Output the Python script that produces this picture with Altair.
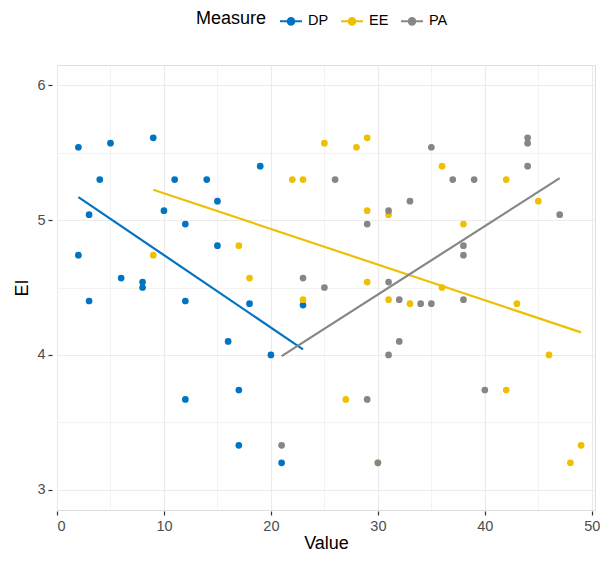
import altair as alt
import pandas as pd

dp_x = [2, 5, 9, 4, 11, 14, 15, 10, 3, 12, 15, 2, 6, 8, 8, 3, 12, 16, 12, 19, 18, 23, 20, 17, 17, 21]
dp_y = [5.54, 5.57, 5.61, 5.30, 5.30, 5.30, 5.14, 5.07, 5.04, 4.97, 4.81, 4.74, 4.57, 4.54, 4.50, 4.40, 4.40, 4.10, 3.67, 5.40, 4.38, 4.37, 4.00, 3.74, 3.33, 3.20]

ee_x = [9, 17, 18, 23, 25, 28, 29, 22, 23, 29, 31, 29, 31, 27, 36, 42, 45, 38, 36, 33, 43, 46, 42, 49, 48, 30]
ee_y = [4.74, 4.81, 4.57, 4.41, 5.57, 5.54, 5.61, 5.30, 5.30, 5.07, 5.04, 4.54, 4.41, 3.67, 5.40, 5.30, 5.14, 4.97, 4.50, 4.38, 4.38, 4.00, 3.74, 3.33, 3.20, 3.20]

pa_x = [23, 25, 26, 31, 29, 31, 32, 31, 32, 21, 29, 30, 35, 37, 39, 44, 44, 44, 47, 33, 38, 38, 34, 35, 38, 40]
pa_y = [4.57, 4.50, 5.30, 5.07, 4.97, 4.54, 4.41, 4.00, 4.10, 3.33, 3.67, 3.20, 5.54, 5.30, 5.30, 5.61, 5.57, 5.40, 5.04, 5.14, 4.81, 4.74, 4.38, 4.38, 4.41, 3.74]

measures = ["DP", "EE", "PA"]
colors = ["#0073C2", "#EFC000", "#868686"]

rows = []
for m, xs, ys in zip(measures, [dp_x, ee_x, pa_x], [dp_y, ee_y, pa_y]):
    for a, b in zip(xs, ys):
        rows.append({"Measure": m, "Value": a, "EI": b})
df = pd.DataFrame(rows)

x_vals = [0, 5, 10, 15, 20, 25, 30, 35, 40, 45, 50]
y_vals = [3, 3.5, 4, 4.5, 5, 5.5, 6]

FONT = "Liberation Sans"

xscale = alt.Scale(domain=[0, 50.3], nice=False, zero=False)
yscale = alt.Scale(domain=[2.85, 6.15], nice=False, zero=False)

xaxis = alt.Axis(
    values=x_vals,
    labelExpr="datum.value % 10 === 0 ? format(datum.value, 'd') : ''",
    grid=True,
    gridColor="#ebebeb",
    gridWidth={"condition": {"test": "datum.value % 10 === 0", "value": 1.2}, "value": 0.6},
    tickOpacity={"condition": {"test": "datum.value % 10 === 0", "value": 1}, "value": 0},
    tickColor="#333333",
    tickSize=4,
    tickWidth=1.2,
    domain=False,
    offset=1,
    labelColor="#4d4d4d",
    labelFontSize=14.5,
    labelFont=FONT,
    labelPadding=4,
    title="Value",
    titleFontSize=18,
    titleFontWeight="normal",
    titleFont=FONT,
    titleColor="#000000",
    titlePadding=2,
)
yaxis = alt.Axis(
    values=y_vals,
    labelExpr="datum.value % 1 === 0 ? format(datum.value, 'd') : ''",
    grid=True,
    gridColor="#ebebeb",
    gridWidth={"condition": {"test": "datum.value % 1 === 0", "value": 1.2}, "value": 0.6},
    tickOpacity={"condition": {"test": "datum.value % 1 === 0", "value": 1}, "value": 0},
    tickColor="#333333",
    tickSize=4,
    tickWidth=1.2,
    domain=False,
    offset=5,
    labelColor="#4d4d4d",
    labelFontSize=14.5,
    labelFont=FONT,
    labelPadding=3,
    title="EI",
    titleFontSize=18,
    titleFontWeight="normal",
    titleFont=FONT,
    titleColor="#000000",
    titlePadding=5,
)

color = alt.Color(
    "Measure:N",
    scale=alt.Scale(domain=measures, range=colors),
    legend=alt.Legend(
        orient="none",
        legendX=139,
        legendY=-56,
        direction="horizontal",
        titleOrient="left",
        title="Measure",
        titleFontSize=18,
        titleFontWeight="normal",
        titleFont=FONT,
        titleColor="#000000",
        titlePadding=12,
        labelFontSize=14.5,
        labelFont=FONT,
        labelColor="#000000",
        symbolType="M-1,0L1,0M0.3,0A0.3,0.3,0,1,1,-0.3,0A0.3,0.3,0,1,1,0.3,0",
        symbolSize=484,
        symbolStrokeWidth=2,
        columnPadding=8,
        labelOffset=5,
    ),
)

base = alt.Chart(df)

points = base.mark_circle(size=45, opacity=1).encode(
    x=alt.X("Value:Q", scale=xscale, axis=xaxis),
    y=alt.Y("EI:Q", scale=yscale, axis=yaxis),
    color=color,
)

lines = base.transform_regression(
    "Value", "EI", groupby=["Measure"]
).mark_line(strokeWidth=2.2).encode(
    x=alt.X("Value:Q", scale=xscale),
    y=alt.Y("EI:Q", scale=yscale),
    color=alt.Color("Measure:N", scale=alt.Scale(domain=measures, range=colors)),
)

chart = alt.layer(points, lines).properties(
    width=538,
    height=445,
    autosize=alt.AutoSizeParams(type="none"),
    padding={"left": 49, "top": 57, "right": 5, "bottom": 43},
).configure_view(stroke=None).configure(background="white")

chart.save("out.html", embed_options={"renderer": "svg", "actions": False})
